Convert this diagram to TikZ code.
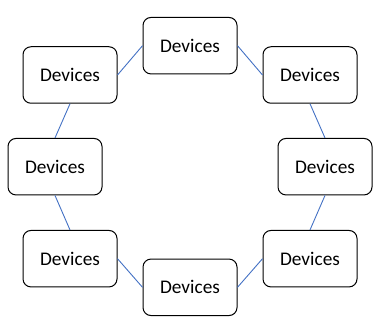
\documentclass[tikz,border=0pt]{standalone}
\usepackage{fontspec}
\setmainfont{Carlito}
\definecolor{linkblue}{HTML}{4472C4}
\begin{document}
\begin{tikzpicture}[x=1pt,y=-1pt,
  dev/.style={draw=black,line width=1pt,rounded corners=8pt,minimum width=94pt,minimum height=56.5pt,inner sep=0pt,font=\fontsize{19.3}{22}\selectfont},
  link/.style={draw=linkblue,line width=0.9pt}]
\useasboundingbox (0,0) rectangle (382,331);
\node[dev] (t)  at (190,45.7)  {Devices};
\node[dev] (tl) at (70,75)     {Devices};
\node[dev] (tr) at (310,75)    {Devices};
\node[dev] (l)  at (55,166.7)  {Devices};
\node[dev] (r)  at (325,166.7) {Devices};
\node[dev] (bl) at (70,258.7)  {Devices};
\node[dev] (br) at (310,258.7) {Devices};
\node[dev] (b)  at (190,287.3) {Devices};
\draw[link] (tl.east) -- (t.west);
\draw[link] (t.east) -- (tr.west);
\draw[link] (tr.south) -- (r.north);
\draw[link] (r.south) -- (br.north);
\draw[link] (br.west) -- (b.east);
\draw[link] (b.west) -- (bl.east);
\draw[link] (bl.north) -- (l.south);
\draw[link] (l.north) -- (tl.south);
\end{tikzpicture}
\end{document}
